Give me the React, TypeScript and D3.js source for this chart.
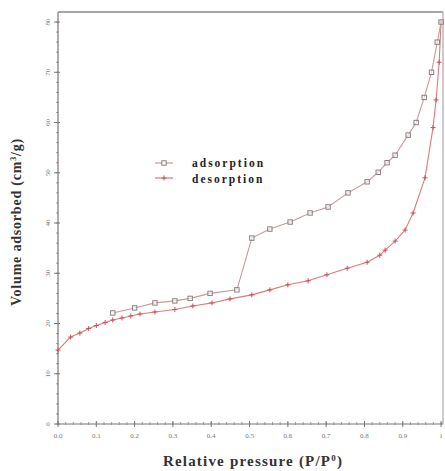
import React from "react";
import * as d3 from "d3";

const W = 445;
const H = 471;

// Upper branch (legend: adsorption, grey open squares)
const adsP = [0.143, 0.2, 0.253, 0.305, 0.345, 0.397, 0.467, 0.506, 0.553, 0.606, 0.658, 0.705, 0.757, 0.807, 0.836, 0.859, 0.88, 0.914, 0.935, 0.956, 0.975, 0.99, 1.0];
const adsV = [22.1, 23.1, 24.1, 24.5, 25.0, 26.0, 26.7, 37.0, 38.8, 40.2, 42.0, 43.2, 46.0, 48.2, 50.1, 52.0, 53.5, 57.5, 60.0, 65.0, 70.0, 76.0, 80.0];

// Lower branch (legend: desorption, red crosses)
const desP = [0.0, 0.033, 0.057, 0.08, 0.1, 0.123, 0.143, 0.167, 0.19, 0.214, 0.253, 0.305, 0.352, 0.402, 0.449, 0.506, 0.553, 0.6, 0.653, 0.702, 0.755, 0.807, 0.84, 0.854, 0.88, 0.906, 0.927, 0.958, 0.979, 0.987, 0.995, 1.0];
const desV = [14.7, 17.3, 18.1, 19.0, 19.6, 20.2, 20.7, 21.1, 21.5, 21.9, 22.3, 22.8, 23.5, 24.1, 24.9, 25.7, 26.7, 27.7, 28.5, 29.7, 31.0, 32.2, 33.6, 34.6, 36.4, 38.6, 42.0, 49.0, 59.0, 64.5, 72.0, 80.0];

const xTicks = [0, 0.1, 0.2, 0.3, 0.4, 0.5, 0.6, 0.7, 0.8, 0.9, 1.0];
const xTickLabels = ["0.0", "0.1", "0.2", "0.3", "0.4", "0.5", "0.6", "0.7", "0.8", "0.9", "1"];
const yTicks = [0, 10, 20, 30, 40, 50, 60, 70, 80];
const legendLabels = ["adsorption", "desorption"];

export default function App() {
  const left = 58, right = 443, top = 12, bottom = 424;
  const x = d3.scaleLinear().domain([0, 1.005]).range([left, right]);
  const y = d3.scaleLinear().domain([0, 82]).range([bottom, top]);
  const line = d3.line<[number, number]>().x(d => x(d[0])).y(d => y(d[1]));
  const ads: [number, number][] = adsP.map((p, i) => [p, adsV[i]]);
  const des: [number, number][] = desP.map((p, i) => [p, desV[i]]);
  const xMinor = d3.range(0, 1.001, 0.02);
  const yMinor = d3.range(0, 82, 2);
  const upperLine = "#c89a9a";
  const lowerLine = "#e07a7a";
  const sq = "#8a8080";
  const cross = "#c8505a";
  const font = "'Liberation Serif', 'Times New Roman', serif";

  return (
    <svg width={W} height={H} style={{ position: "absolute", left: 0, top: 0, background: "#fff" }}>
      {/* frame */}
      <line x1={left} x2={right} y1={top} y2={top} stroke="#888" strokeWidth={1.5} />
      <line x1={right} x2={right} y1={top} y2={bottom} stroke="#999" strokeWidth={1} />
      <line x1={left} x2={left} y1={top} y2={bottom} stroke="#777" strokeWidth={1.2} />
      <line x1={left} x2={right} y1={bottom} y2={bottom} stroke="#777" strokeWidth={1.2} />
      {/* x minor ticks */}
      {xMinor.map((t, i) => (
        <line key={"xm" + i} x1={x(t)} x2={x(t)} y1={bottom - 2} y2={bottom + 1} stroke="#888" strokeWidth={0.8} />
      ))}
      {xTicks.map((t, i) => (
        <g key={"xt" + i}>
          <line x1={x(t)} x2={x(t)} y1={bottom - 3} y2={bottom + 3} stroke="#777" strokeWidth={1} />
          <text x={x(t)} y={bottom + 14} fontSize={7} fill="#777" textAnchor="middle" fontFamily={font}>{xTickLabels[i]}</text>
        </g>
      ))}
      {yMinor.map((t, i) => (
        <line key={"ym" + i} x1={left - 2} x2={left + 1} y1={y(t)} y2={y(t)} stroke="#888" strokeWidth={0.8} />
      ))}
      {yTicks.map((t, i) => (
        <g key={"yt" + i}>
          <line x1={left - 4} x2={left + 2} y1={y(t)} y2={y(t)} stroke="#777" strokeWidth={1} />
          <text transform={`translate(${left - 8},${y(t)}) rotate(-90)`} fontSize={7} fill="#777" textAnchor="middle" fontFamily={font}>{t}</text>
        </g>
      ))}
      {/* lines */}
      <path d={line(des) || ""} fill="none" stroke={lowerLine} strokeWidth={1.1} />
      <path d={line(ads) || ""} fill="none" stroke={upperLine} strokeWidth={1.1} />
      {/* markers */}
      {des.map((d, i) => (
        <g key={"dm" + i} stroke={cross} strokeWidth={1}>
          <line x1={x(d[0]) - 2.5} x2={x(d[0]) + 2.5} y1={y(d[1])} y2={y(d[1])} />
          <line x1={x(d[0])} x2={x(d[0])} y1={y(d[1]) - 2.5} y2={y(d[1]) + 2.5} />
        </g>
      ))}
      {ads.map((d, i) => (
        <rect key={"am" + i} x={x(d[0]) - 2.2} y={y(d[1]) - 2.2} width={4.4} height={4.4} fill="#fff" fillOpacity={0.6} stroke={sq} strokeWidth={1} />
      ))}
      {/* legend */}
      <g>
        <line x1={155} x2={173} y1={163} y2={163} stroke={upperLine} strokeWidth={1.2} />
        <rect x={161.8} y={160.8} width={4.4} height={4.4} fill="#fff" stroke={sq} strokeWidth={1} />
        <text x={192} y={167} fontSize={11.5} letterSpacing={2} fontWeight="bold" fontFamily={font} fill="#222">{legendLabels[0]}</text>
        <line x1={155} x2={173} y1={178} y2={178} stroke={lowerLine} strokeWidth={1.2} />
        <line x1={161.5} x2={166.5} y1={178} y2={178} stroke={cross} strokeWidth={1} />
        <line x1={164} x2={164} y1={175.5} y2={180.5} stroke={cross} strokeWidth={1} />
        <text x={192} y={183} fontSize={11.5} letterSpacing={2} fontWeight="bold" fontFamily={font} fill="#222">{legendLabels[1]}</text>
      </g>
      {/* axis titles */}
      <text transform={`translate(21,222) rotate(-90)`} fontSize={14} letterSpacing={0.8} fontWeight="bold" fontFamily={font} fill="#333" textAnchor="middle">
        Volume adsorbed (cm<tspan fontSize={8} dy={-5}>3</tspan><tspan dy={5}>/g)</tspan>
      </text>
      <text x={253} y={466} fontSize={15} letterSpacing={1.2} fontWeight="bold" fontFamily={font} fill="#333" textAnchor="middle">
        Relative pressure (P/P<tspan fontSize={9} dy={-5}>0</tspan><tspan dy={5}>)</tspan>
      </text>
    </svg>
  );
}
